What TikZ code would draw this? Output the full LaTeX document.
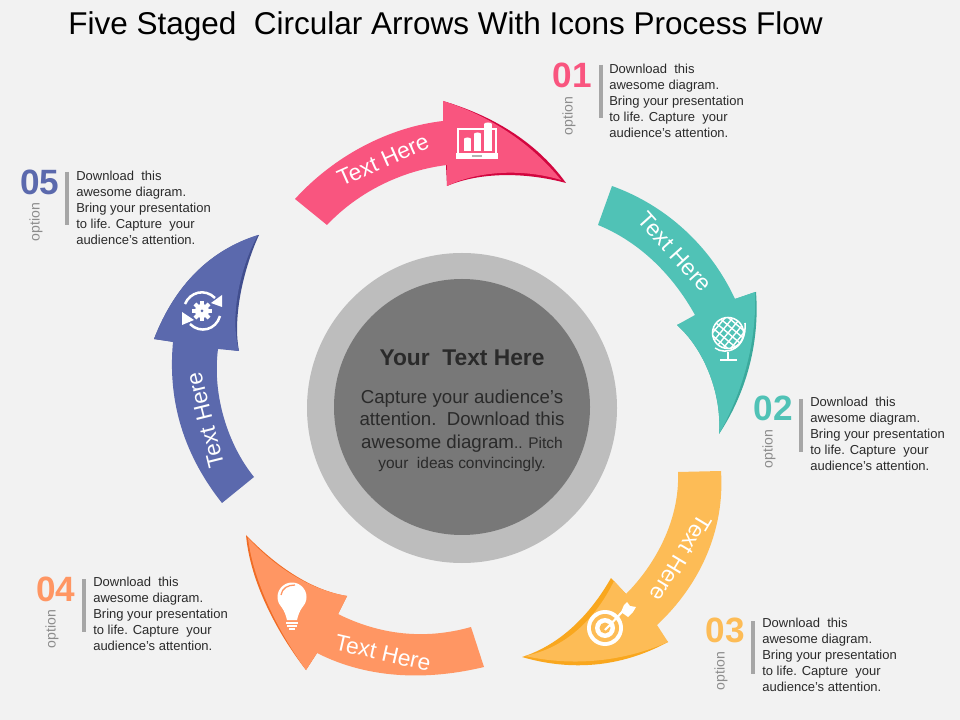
\documentclass[tikz,border=0pt]{standalone}
\usepackage{fontspec}
\setmainfont{Liberation Sans}
\usepackage{tikz}
\usetikzlibrary{arrows.meta,positioning}

\definecolor{bgcol}{HTML}{F2F2F2}
\definecolor{pinkcol}{HTML}{F9557F}
\definecolor{pinkdark}{HTML}{D2063F}
\definecolor{tealcol}{HTML}{50C2B6}
\definecolor{tealdark}{HTML}{3BA99C}
\definecolor{yellowcol}{HTML}{FDBC56}
\definecolor{yellowdark}{HTML}{F9A71E}
\definecolor{salmoncol}{HTML}{FF9663}
\definecolor{salmondark}{HTML}{F06C25}
\definecolor{bluecol}{HTML}{5B69AD}
\definecolor{bluedark}{HTML}{414E8E}
\definecolor{ringcol}{HTML}{BDBDBD}
\definecolor{corecol}{HTML}{787878}
\definecolor{inkcol}{HTML}{2A2A2A}

\tikzset{
  titletext/.style={font=\fontsize{22.4}{26}\selectfont,anchor=west,inner sep=0pt,text=black},
  bodytext/.style={font=\fontsize{9.25}{11.33}\selectfont,anchor=west,align=left,inner sep=0pt,text=inkcol},
  numtext/.style={font=\fontsize{25}{29}\selectfont\bfseries,inner sep=0pt},
  opttext/.style={font=\fontsize{10}{12}\selectfont,rotate=90,inner sep=0pt,text=black!45},
  armtext/.style={font=\fontsize{16.2}{20}\selectfont,inner sep=0pt,text=white},
  sidebar/.style={draw=black!35,line width=2.2pt},
  iconline/.style={draw=white,line width=1.1pt},
}
\newcommand{\blurb}{Download\ \ this\\awesome diagram.\\Bring your presentation\\to life. Capture\ \ your\\audience's\ attention.}

\begin{document}
\begin{tikzpicture}[x=0.025cm,y=-0.025cm]
  \useasboundingbox (0,0) rectangle (960,720);
  \fill[bgcol] (0,0) rectangle (960,720);
  \node[titletext] (title) at (68,26) {Five Staged\ \ Circular Arrows With Icons Process Flow};

  % centre disc
  \fill[ringcol] (462,408) circle (155);
  \fill[corecol] (462,407) circle (128);
  \node[font=\fontsize{16.2}{20}\selectfont\bfseries,text=inkcol,inner sep=0pt] (corehead) at (462,358) {Your\ \ Text Here};
  \node[font=\fontsize{13.3}{16}\selectfont,text=inkcol,align=center,inner sep=0pt] (corebody) at (462,421)
    {Capture your audience's\\attention.\ \ Download this\\awesome diagram\fontsize{11}{16}\selectfont.. Pitch};
  \node[font=\fontsize{11}{13}\selectfont,text=inkcol,inner sep=0pt] (corelast) at (462,465) {your\ \ ideas convincingly.};

  % arrow one
  \fill[pinkdark] (443,101) .. controls (490,115) and (535,140) .. (566,183)
    .. controls (525,172) and (480,172) .. (447,186) -- cycle;
  \fill[pinkcol] (295,199) .. controls (335,155) and (390,127) .. (443,121) -- (443,101)
    .. controls (488,115) and (530,142) .. (561,180) .. controls (525,169) and (480,170) .. (447,186)
    -- (447,165) .. controls (405,170) and (360,190) .. (327,225) -- cycle;
  \node[armtext,rotate=24] (armone) at (383,160) {Text Here};
  % laptop
  \draw[iconline] (458,153) -- (458,129) -- (496,129) -- (496,153);
  \fill[white] (456,153) rectangle (498,159);
  \fill[white] (464,139) rectangle (471,151);
  \fill[white] (474,134) rectangle (481,151);
  \fill[white] (484,124) rectangle (492,151);
  \fill[white] (467.5,139) ellipse (3.5 and 1.5);
  \fill[white] (477.5,134) ellipse (3.5 and 1.5);
  \fill[white] (488,124) ellipse (4 and 1.5);
  \fill[black!30] (472,155.5) rectangle (482,157);

  % arrow two
  \fill[tealdark] (756,292) .. controls (760,345) and (745,395) .. (719,434)
    .. controls (722,395) and (705,350) .. (677,325) -- (735,299) -- cycle;
  \fill[tealcol] (612,186) .. controls (665,205) and (710,245) .. (735,299) -- (755,292)
    .. controls (757,345) and (741,395) .. (719,434) .. controls (722,395) and (705,350) .. (677,325)
    -- (695,315) .. controls (670,270) and (635,240) .. (598,225) -- cycle;
  \node[armtext,rotate=-48] (armtwo) at (675,252) {Text Here};
  % globe
  \begin{scope}
    \clip (728,333) circle (15.5);
    \foreach \k in {-12,-6,0,6,12}{
      \draw[white,line width=1pt,rotate around={-40:(728,333)}] (728+\k,315) -- (728+\k,351);
      \draw[white,line width=1pt,rotate around={-40:(728,333)}] (710,333+\k) -- (746,333+\k);
    }
  \end{scope}
  \draw[iconline] (728,333) circle (15.5);
  \draw[iconline] (715,348) .. controls (726,356) and (747,349) .. (745,323);
  \draw[iconline] (728,352) -- (728,360);
  \draw[iconline] (720,360) -- (737,360);

  % arrow three
  \fill[yellowdark] (668,642) .. controls (620,668) and (570,671) .. (522,657)
    .. controls (560,645) and (590,615) .. (611,578) -- (626,594) -- cycle;
  \fill[yellowcol] (678,472) -- (721,471) .. controls (725,530) and (700,585) .. (657,625) -- (668,642)
    .. controls (620,663) and (570,666) .. (525,656) .. controls (565,648) and (595,620) .. (614,581)
    -- (626,594) .. controls (655,565) and (680,520) .. (678,472) -- cycle;
  \node[armtext,rotate=-121] (armthree) at (681,558) {Text Here};
  % target
  \fill[white] (605,628) circle (18);
  \fill[yellowcol] (605,628) circle (14);
  \fill[white] (605,628) circle (10);
  \fill[yellowcol] (605,628) circle (5.5);
  \draw[white,line width=1.5pt] (605,630) -- (624,610);
  \fill[white] (621,612) -- (624,605) -- (627,602) -- (630,606) -- (636,607) -- (633,612) -- (628,617) -- cycle;

  % arrow four
  \fill[salmondark] (246,535) .. controls (250,580) and (275,630) .. (306,670) -- (317,653) -- (338,614) -- (347,596)
    .. controls (310,590) and (275,565) .. (246,535) -- cycle;
  \fill[salmoncol] (484,667) -- (471,627) .. controls (425,640) and (380,635) .. (338,614) -- (347,596)
    .. controls (310,590) and (275,567) .. (248,538) .. controls (253,580) and (277,630) .. (306,670)
    -- (317,653) .. controls (370,680) and (430,680) .. (484,667) -- cycle;
  \node[armtext,rotate=-13] (armfour) at (383,653) {Text Here};
  % bulb
  \fill[white] (292,597) circle (14.5);
  \fill[white] (281,606) .. controls (285,612) and (286,616) .. (287,620) -- (297,620)
    .. controls (298,616) and (299,612) .. (303,606) -- cycle;
  \draw[salmoncol,line width=0.9pt] (281,595) .. controls (282,588) and (288,585) .. (295,585);
  \fill[white] (286,621.5) rectangle (298,623.5);
  \fill[white] (287,625) rectangle (297,627);
  \fill[white] (289,628) rectangle (295,629.5);

  % arrow five
  \fill[bluedark] (154,339) .. controls (175,285) and (210,250) .. (259,235)
    .. controls (245,265) and (232,315) .. (239,351) -- cycle;
  \fill[bluecol] (222,503) .. controls (180,450) and (168,395) .. (173,342) -- (154,339)
    .. controls (175,285) and (210,250) .. (258,235) .. controls (241,265) and (229,315) .. (239,351)
    -- (218,349) .. controls (212,395) and (228,445) .. (254,477) -- cycle;
  \node[armtext,rotate=104] (armfive) at (205,420) {Text Here};
  % gear and turning arrows
  \foreach \a in {0,45,...,315}{
    \fill[white,rotate around={\a:(202,311)}] (200,301) rectangle (204,305);
  }
  \fill[white] (202,311) circle (7);
  \fill[bluecol] (202,311) circle (1.5);
  \draw[white,line width=1.8pt] (185,304) .. controls (190,292) and (205,288) .. (215,298);
  \draw[white,line width=1.8pt] (220,316) .. controls (216,330) and (200,334) .. (190,324);
  \fill[white] (222,295) -- (222,307) -- (211,303) -- cycle;
  \fill[white] (182,312) -- (182,325) -- (194,320) -- cycle;

  % option one
  \node[numtext,text=pinkcol] (numone) at (572,75) {01};
  \node[opttext] (optone) at (569,116) {option};
  \draw[sidebar] (601,65) -- (601,118);
  \node[bodytext] (txtone) at (609,101) {\blurb};

  % option two
  \node[numtext,text=tealcol] (numtwo) at (773,408) {02};
  \node[opttext] (opttwo) at (769,449) {option};
  \draw[sidebar] (801,399) -- (801,452);
  \node[bodytext] (txttwo) at (810,434) {\blurb};

  % option three
  \node[numtext,text=yellowcol] (numthree) at (725,630) {03};
  \node[opttext] (optthree) at (721,671) {option};
  \draw[sidebar] (753,621) -- (753,674);
  \node[bodytext] (txtthree) at (762,655) {\blurb};

  % option four
  \node[numtext,text=salmoncol] (numfour) at (56,589) {04};
  \node[opttext] (optfour) at (52,629) {option};
  \draw[sidebar] (84,579) -- (84,632);
  \node[bodytext] (txtfour) at (93,614) {\blurb};

  % option five
  \node[numtext,text=bluecol] (numfive) at (40,182) {05};
  \node[opttext] (optfive) at (36,222) {option};
  \draw[sidebar] (67,172) -- (67,225);
  \node[bodytext] (txtfive) at (76,208) {\blurb};
\end{tikzpicture}
\end{document}
